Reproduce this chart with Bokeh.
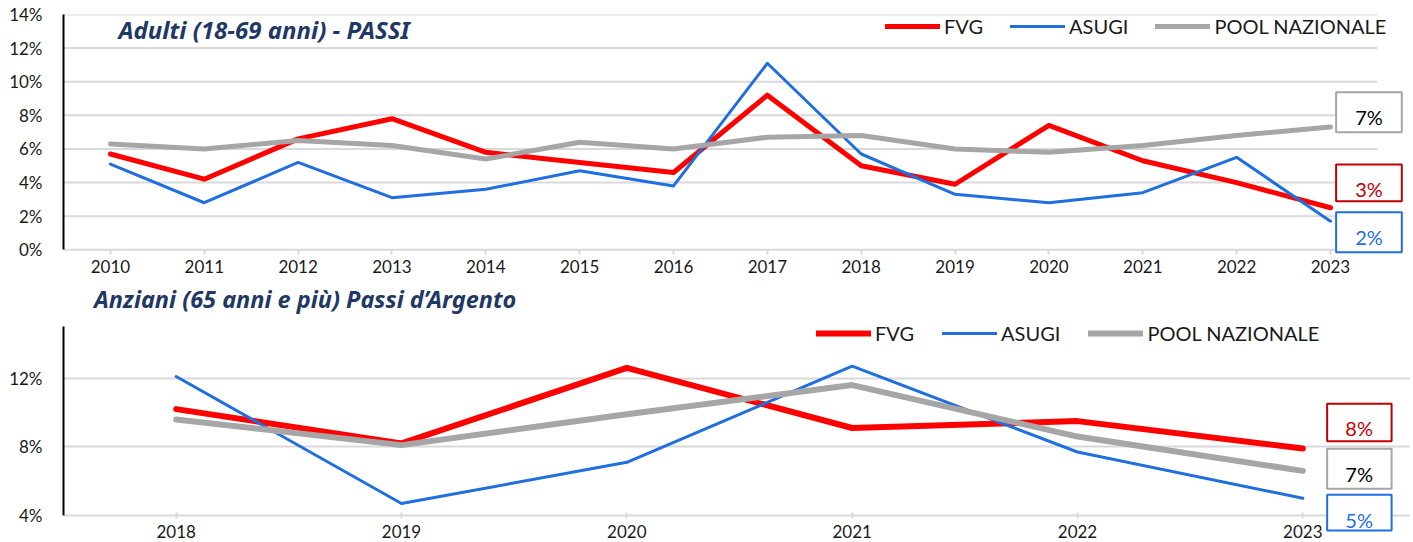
from bokeh.plotting import figure
from bokeh.models import (Range1d, FixedTicker, PrintfTickFormatter, Legend,
                          LegendItem)
from bokeh.core.properties import value
from bokeh.layouts import column
from bokeh.embed import file_html
from bokeh.resources import INLINE

# ---------------- data ----------------
years_adulti = [2010, 2011, 2012, 2013, 2014, 2015, 2016, 2017, 2018, 2019, 2020, 2021, 2022, 2023]
fvg_adulti   = [5.7, 4.2, 6.6, 7.8, 5.8, 5.2, 4.6, 9.2, 5.0, 3.9, 7.4, 5.3, 4.0, 2.5]
asugi_adulti = [5.1, 2.8, 5.2, 3.1, 3.6, 4.7, 3.8, 11.1, 5.7, 3.3, 2.8, 3.4, 5.5, 1.7]
pool_adulti  = [6.3, 6.0, 6.5, 6.2, 5.4, 6.4, 6.0, 6.7, 6.8, 6.0, 5.8, 6.2, 6.8, 7.3]

years_anziani = [2018, 2019, 2020, 2021, 2022, 2023]
fvg_anziani   = [10.2, 8.2, 12.6, 9.1, 9.5, 7.9]
asugi_anziani = [12.1, 4.7, 7.1, 12.7, 7.7, 5.0]
pool_anziani  = [9.6, 8.1, 9.9, 11.6, 8.6, 6.6]

series_names = ["FVG", "ASUGI", "POOL NAZIONALE"]
title_adulti = "Adulti (18-69 anni) - PASSI"
title_anziani = "Anziani (65 anni e più) Passi d\u2019Argento"
yticks_adulti = [0, 2, 4, 6, 8, 10, 12, 14]
yticks_anziani = [4, 8, 12]

# ---------------- style ----------------
RED = "#FF0000"
DARKRED = "#C00000"
BLUE = "#1F6FE0"
GRAY = "#A6A6A6"
GRID = "#D9D9D9"
NAVY = "#1F3864"
TXT = "#1A1A1A"
FONT = "Lato"
TFONT = "Noto Sans"
W = 1410


def pct_label(v):
    return "%d%%" % int(v + 0.5)


def style_axes(p, yticks, ybounds, xloc, xtick_in, xtick_out, xstand, years):
    p.outline_line_color = None
    p.xgrid.visible = False
    yax = p.yaxis[0]
    yax.ticker = FixedTicker(ticks=yticks)
    yax.formatter = PrintfTickFormatter(format="%d%%")
    yax.bounds = ybounds
    yax.axis_line_color = "black"
    yax.axis_line_width = 2
    yax.major_tick_line_color = None
    yax.minor_tick_line_color = None
    yax.major_label_standoff = 15
    yax.major_label_text_font = FONT
    yax.major_label_text_font_size = "17px"
    yax.major_label_text_color = TXT
    xax = p.xaxis[0]
    xax.fixed_location = xloc
    xax.ticker = FixedTicker(ticks=years)
    xax.axis_line_color = None
    xax.major_tick_line_color = GRID
    xax.major_tick_line_width = 2
    xax.major_tick_in = xtick_in
    xax.major_tick_out = xtick_out
    xax.minor_tick_line_color = None
    xax.major_label_standoff = xstand
    xax.major_label_text_font = FONT
    xax.major_label_text_font_size = "17px"
    xax.major_label_text_color = TXT


def add_legend(p, renderers, loc, spacing):
    items = [LegendItem(label=n, renderers=[r]) for n, r in zip(series_names, renderers)]
    lg = Legend(items=items, location=loc, orientation="horizontal",
                padding=0, margin=0, spacing=spacing, label_standoff=4,
                glyph_width=55, glyph_height=20, label_height=20,
                label_text_font=FONT, label_text_font_size="20px",
                label_text_color=TXT, border_line_color=None,
                background_fill_alpha=0)
    p.add_layout(lg)


def add_boxes(p, xs, tx, boxes):
    # boxes: (value, bottom_off, top_off, text_off, text_color, border_color)
    left, right = xs
    p.quad(left=[left] * len(boxes), right=[right] * len(boxes),
           bottom=[b[0] + b[1] for b in boxes], top=[b[0] + b[2] for b in boxes],
           fill_color="white", line_color=[b[5] for b in boxes], line_width=2)
    p.text(x=[tx] * len(boxes), y=[b[0] + b[3] for b in boxes],
           text=[pct_label(b[0]) for b in boxes], text_color=[b[4] for b in boxes],
           text_align="center", text_baseline="alphabetic",
           text_font=value(FONT), text_font_size="20px")


# ================= top chart =================
cat_w1 = 93.85        # px per year
pxp1 = 16.807         # px per percent point
f1_top, f1_h = 14, 268
p1 = figure(width=W, height=f1_top + f1_h, output_backend="svg", toolbar_location=None,
            x_range=Range1d(2009.5, 2009.5 + (W - 63) / cat_w1),
            y_range=Range1d(14 - f1_h / pxp1, 14),
            min_border_left=63, min_border_right=0, min_border_top=f1_top,
            min_border_bottom=0)
style_axes(p1, yticks_adulti, (0, 14), 0, 0, 5, 5, years_adulti)
p1.ygrid.visible = False
p1.segment(x0=[years_adulti[0] - 0.5] * len(yticks_adulti),
           x1=[years_adulti[-1] + 0.5] * len(yticks_adulti),
           y0=yticks_adulti, y1=yticks_adulti, line_color=GRID, line_width=2)

r_f1 = p1.line(years_adulti, fvg_adulti, line_color=RED, line_width=5,
               line_join="round", line_cap="round")
r_a1 = p1.line(years_adulti, asugi_adulti, line_color=BLUE, line_width=3,
               line_join="round", line_cap="round")
r_p1 = p1.line(years_adulti, pool_adulti, line_color=GRAY, line_width=5,
               line_join="round", line_cap="round")
add_legend(p1, [r_f1, r_a1, r_p1], (822, f1_h - 23.7), 27)

p1.text(x=[2010.086], y=[13.1], text=[title_adulti], text_baseline="alphabetic",
        text_font=value(TFONT), text_font_style="bold italic",
        text_font_size="24px", text_color=NAVY)

last1 = years_adulti[-1]
add_boxes(p1, (last1 + 0.06, last1 + 0.76), last1 + 0.41, [
    (pool_adulti[-1], -0.30, 2.08, 0.62, "black", GRAY),
    (fvg_adulti[-1], 0.39, 2.58, 1.09, DARKRED, DARKRED),
    (asugi_adulti[-1], -1.84, 0.54, -0.92, BLUE, BLUE),
])

# ================= bottom chart =================
cat_w2 = 226.0
pxp2 = 17.16
f2_top, f2_h = 2, 256
top_val2 = 4 + (515 - 282 - f2_top) / pxp2
p2 = figure(width=W, height=f2_top + f2_h, output_backend="svg", toolbar_location=None,
            x_range=Range1d(2017.5, 2017.5 + (W - 59) / cat_w2),
            y_range=Range1d(top_val2 - f2_h / pxp2, top_val2),
            min_border_left=59, min_border_right=0, min_border_top=f2_top,
            min_border_bottom=0)
style_axes(p2, yticks_anziani, (4, 15), 4, 3, 3, 6, years_anziani)
p2.ygrid.ticker = FixedTicker(ticks=yticks_anziani)
p2.ygrid.grid_line_color = GRID
p2.ygrid.grid_line_width = 2

r_f2 = p2.line(years_anziani, fvg_anziani, line_color=RED, line_width=6,
               line_join="round", line_cap="round")
r_a2 = p2.line(years_anziani, asugi_anziani, line_color=BLUE, line_width=3,
               line_join="round", line_cap="round")
r_p2 = p2.line(years_anziani, pool_anziani, line_color=GRAY, line_width=6,
               line_join="round", line_cap="round")
add_legend(p2, [r_f2, r_a2, r_p2], (753, f2_h - 61), 28)

p2.text(x=[2017.635], y=[16.6], text=[title_anziani], text_baseline="alphabetic",
        text_font=value(TFONT), text_font_style="bold italic",
        text_font_size="23.5px", text_color=NAVY)

last2 = years_anziani[-1]
add_boxes(p2, (last2 + 0.108, last2 + 0.394), last2 + 0.25, [
    (fvg_anziani[-1], 0.43, 2.61, 1.17, DARKRED, DARKRED),
    (pool_anziani[-1], -1.04, 1.29, -0.21, "black", GRAY),
    (asugi_anziani[-1], -1.87, 0.21, -1.29, BLUE, BLUE),
])

layout = column(p1, p2, spacing=0)
open("out.html", "w").write(file_html(layout, INLINE))
